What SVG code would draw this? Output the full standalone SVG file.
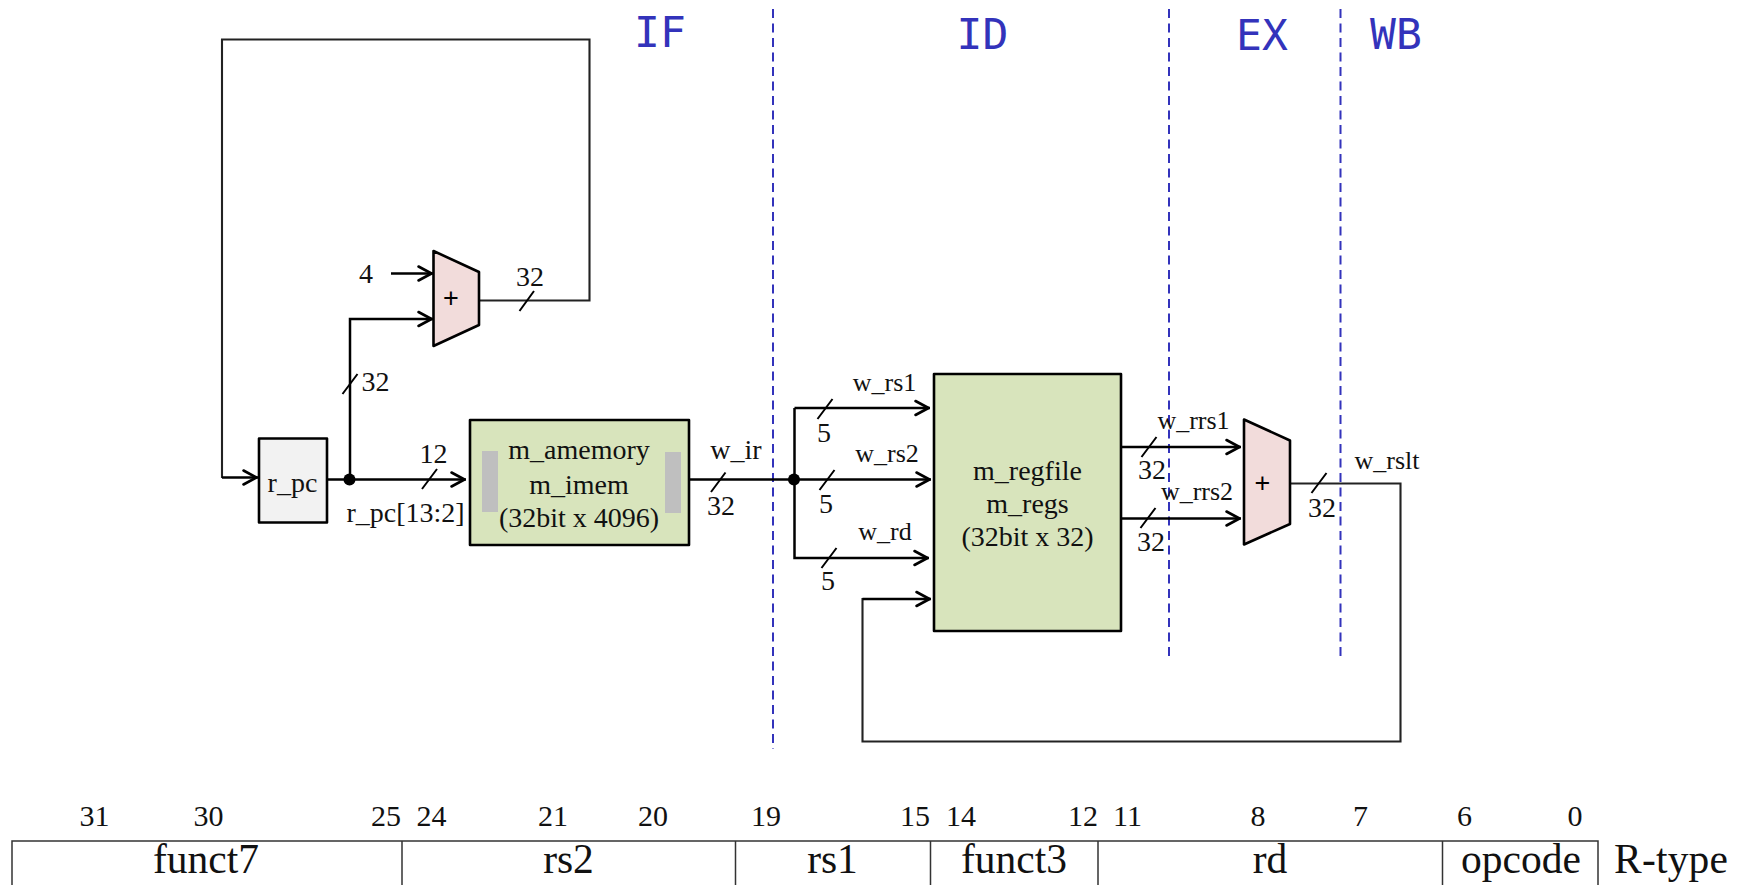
<svg xmlns="http://www.w3.org/2000/svg" width="1747" height="885" viewBox="0 0 1747 885">
<style>
text{font-family:"Liberation Serif","Times New Roman",serif;fill:#111;text-anchor:middle}
.f28{font-size:28px}.f26{font-size:26px}
.st{font-family:"DejaVu Sans Mono",monospace;font-size:43px;fill:#3333bb}
.num{font-size:30px}.fld{font-size:41.5px}
.plus{font-family:"Liberation Sans",sans-serif;font-size:27px;fill:#000}
.box{stroke:#000;stroke-width:2.6;stroke-linejoin:round}
.w{fill:none;stroke:#000;stroke-width:2.5}
.l{fill:none;stroke:#222;stroke-width:2.1}
.a{marker-end:url(#arr)}
.tick{fill:none;stroke:#000;stroke-width:2}
.dash{fill:none;stroke:#3333bb;stroke-width:2;stroke-dasharray:9 5.5}
.tb{fill:none;stroke:#333;stroke-width:1.5}
</style>
<defs>
<marker id="arr" markerUnits="userSpaceOnUse" markerWidth="18" markerHeight="20" refX="16.5" refY="9" orient="auto" overflow="visible">
<path d="M2,2 L15,9 L2,16" fill="none" stroke="#000" stroke-width="2.6" stroke-linecap="round" stroke-linejoin="round"/>
</marker>
</defs>
<g id="stages">
<path class="dash" d="M773,9V749M1169,9V660M1340.5,9V660"/>
<text class="st" x="660" y="47">IF</text>
<text class="st" x="982.5" y="49">ID</text>
<text class="st" x="1262" y="50">EX</text>
<text class="st" x="1396" y="49">WB</text>
</g>
<g id="connectors">
<path class="w a" d="M350,479.5V319H433"/>
<path class="l" d="M479,300.5H589.5V39.5H222V478"/>
<path class="w a" d="M222,477.5H258"/>
<path class="w a" d="M391,273.5H433"/>
<path class="w a" d="M327,479.5H466"/>
<path class="w" d="M689,479.5H794"/>
<path class="w a" d="M794.5,408H930"/>
<path class="w a" d="M794.5,408V558H929"/>
<path class="w a" d="M794,479.5H931"/>
<path class="w a" d="M1121,447H1241"/>
<path class="w a" d="M1121,518.5H1241"/>
<path class="l" d="M1290,483.5H1400.5V741.5H862.5V599H915"/>
<path class="w a" d="M862.5,599H931"/>
<path class="tick" d="M519.5,311L534,291M342.5,394L357.5,374M422,489L437,469M711,492L725.5,472.5M817.5,419L832.5,399M819.5,490L834.5,470M821.5,568L836.5,548M1141.5,457L1156.5,437M1140.5,528L1155.5,508M1311.5,493L1326.5,473"/>
<circle cx="349.5" cy="479.5" r="6"/>
<circle cx="794" cy="479.5" r="6"/>
</g>
<g id="connector-labels">
<text class="f28" x="530" y="286">32</text>
<text class="f28" x="366" y="283">4</text>
<text class="f28" x="375.5" y="391">32</text>
<text class="f28" x="433.5" y="463">12</text>
<text class="f28" x="405.5" y="522">r_pc[13:2]</text>
<text class="f28" x="736" y="459">w_ir</text>
<text class="f28" x="721" y="515">32</text>
<text class="f26" x="884.5" y="391">w_rs1</text>
<text class="f28" x="824" y="442">5</text>
<text class="f26" x="887" y="462">w_rs2</text>
<text class="f28" x="826" y="513">5</text>
<text class="f26" x="885" y="540">w_rd</text>
<text class="f28" x="828" y="590">5</text>
<text class="f26" x="1193.5" y="429">w_rrs1</text>
<text class="f28" x="1152" y="479">32</text>
<text class="f26" x="1197" y="500">w_rrs2</text>
<text class="f28" x="1151" y="551">32</text>
<text class="f28" x="1322" y="517">32</text>
<text class="f26" x="1387" y="469">w_rslt</text>
</g>
<g id="r_pc">
<rect class="box" x="259" y="438.5" width="68" height="84" fill="#f2f2f2"/>
<text class="f28" x="292.5" y="492">r_pc</text>
</g>
<g id="m_imem">
<rect class="box" x="470" y="420" width="219" height="125" fill="#d8e4bc"/>
<rect x="482" y="451" width="16" height="61" fill="#bfbfbf"/>
<rect x="665" y="452" width="16" height="61" fill="#bfbfbf"/>
<text class="f28" x="579" y="459">m_amemory</text>
<text class="f28" x="579" y="494">m_imem</text>
<text class="f28" x="579" y="527">(32bit x 4096)</text>
</g>
<g id="m_regs">
<rect class="box" x="934" y="374" width="187" height="257" fill="#d8e4bc"/>
<text class="f28" x="1027.5" y="480">m_regfile</text>
<text class="f28" x="1027.5" y="513">m_regs</text>
<text class="f28" x="1027.5" y="546">(32bit x 32)</text>
</g>
<g id="adder-pc">
<path class="box" d="M433.5,251L479,272V325L433.5,346Z" fill="#f2dcdb"/>
<text class="plus" x="451" y="307">+</text>
</g>
<g id="adder-ex">
<path class="box" d="M1244,419.5L1290,440.5V524L1244,544.5Z" fill="#f2dcdb"/>
<text class="plus" x="1262.5" y="492">+</text>
</g>
<g id="rtype-table">
<path class="tb" d="M12,885V841H1598V885M402,841V885M735.5,841V885M930.5,841V885M1098,841V885M1442.5,841V885"/>
<text class="num" x="94.5" y="826">31</text>
<text class="num" x="208.5" y="826">30</text>
<text class="num" x="386" y="826">25</text>
<text class="num" x="431.5" y="826">24</text>
<text class="num" x="553" y="826">21</text>
<text class="num" x="653" y="826">20</text>
<text class="num" x="766" y="826">19</text>
<text class="num" x="915" y="826">15</text>
<text class="num" x="961" y="826">14</text>
<text class="num" x="1083" y="826">12</text>
<text class="num" x="1127.5" y="826">11</text>
<text class="num" x="1258" y="826">8</text>
<text class="num" x="1360.5" y="826">7</text>
<text class="num" x="1464.5" y="826">6</text>
<text class="num" x="1575" y="826">0</text>
<text class="fld" x="206" y="873">funct7</text>
<text class="fld" x="568.5" y="873">rs2</text>
<text class="fld" x="832.5" y="873">rs1</text>
<text class="fld" x="1014" y="873">funct3</text>
<text class="fld" x="1270" y="873">rd</text>
<text class="fld" x="1521" y="873">opcode</text>
<text class="fld" x="1671" y="873" textLength="114">R-type</text>
</g>
</svg>
